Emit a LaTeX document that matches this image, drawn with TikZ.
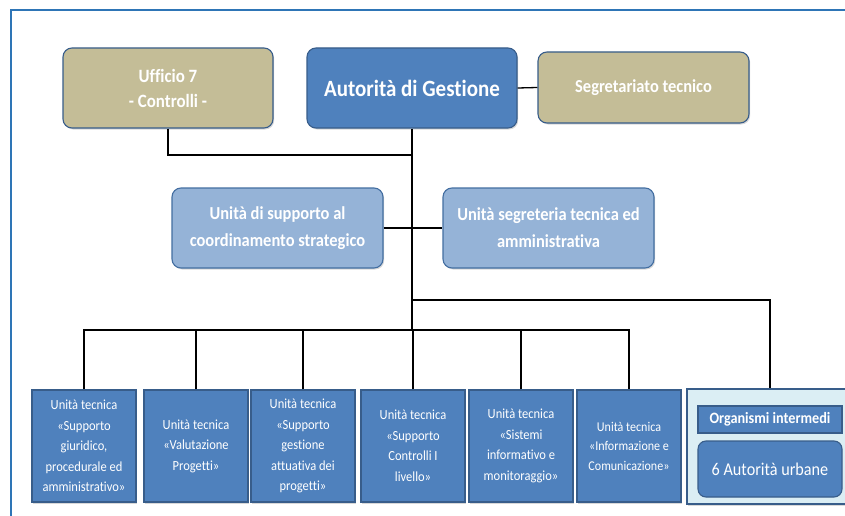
\documentclass[tikz,border=0pt]{standalone}
\usepackage{fontspec}
\setmainfont{Carlito}[FakeStretch=0.9, Ligatures=NoCommon]
\usetikzlibrary{shadows}
\definecolor{tanfill}{HTML}{C4BD97}
\definecolor{midblue}{HTML}{4F81BD}
\definecolor{lightblue}{HTML}{95B3D7}
\definecolor{edgeblue}{HTML}{385D8A}
\definecolor{paleblue}{HTML}{DBEEF4}
\definecolor{framecol}{HTML}{2E75B6}
\tikzset{
  shade1/.style={drop shadow={opacity=0.3, shadow xshift=1.2pt, shadow yshift=-1.5pt}},
  boxbase/.style={draw=edgeblue, line width=1.1pt, text=white, align=center, inner sep=0pt, shade1},
  tanbox/.style={boxbase, fill=tanfill, rounded corners=9pt},
  topbox/.style={boxbase, fill=midblue, rounded corners=9pt},
  midbox/.style={boxbase, fill=lightblue, draw=midblue!85!black, rounded corners=9pt,
    minimum width=211pt, minimum height=80pt,
    font=\fontsize{18.3}{27}\selectfont\bfseries},
  unitbox/.style={boxbase, fill=midblue, minimum width=104pt, minimum height=112pt,
    font=\fontsize{13.9}{20.5}\selectfont},
  orgbox/.style={draw=edgeblue, line width=1.1pt, fill=paleblue, minimum width=166pt, minimum height=115pt, inner sep=0pt, shade1},
  conn/.style={draw=black, line width=1.3pt}
}
\begin{document}
\begin{tikzpicture}[x=1pt, y=-1pt]
\useasboundingbox (0,0) rectangle (845,516);
\clip (0,0) rectangle (845,516);
\fill[white] (0,0) rectangle (845,516);
% frame
\draw[framecol, line width=2pt] (11,520) -- (11,10) -- (850,10);

% top row
\node[tanbox, minimum width=210pt, minimum height=80pt,
  font=\fontsize{18.8}{25}\selectfont\bfseries] (uff) at (168,88) {Ufficio 7\\- Controlli -};
\node[topbox, minimum width=210pt, minimum height=80pt,
  font=\fontsize{23.3}{25}\selectfont\bfseries] (ag) at (412,88) {Autorità di Gestione};
\node[tanbox, minimum width=211pt, minimum height=71pt,
  font=\fontsize{18.3}{25}\selectfont\bfseries] (seg) at (643.5,87.5) {Segretariato tecnico};

% middle row
\node[midbox] (sup) at (277.5,228) {Unità di supporto al\\coordinamento strategico};
\node[midbox] (segr) at (548.5,228) {Unità segreteria tecnica ed\\amministrativa};

% bottom row
\node[unitbox] (u1) at (84,446) {Unità tecnica\\«Supporto\\giuridico,\\procedurale ed\\amministrativo»};
\node[unitbox] (u2) at (196,446) {Unità tecnica\\«Valutazione\\Progetti»};
\node[unitbox] (u3) at (303,446) {Unità tecnica\\«Supporto\\gestione\\attuativa dei\\progetti»};
\node[unitbox] (u4) at (413,446) {Unità tecnica\\«Supporto\\Controlli I\\livello»};
\node[unitbox] (u5) at (521,446) {Unità tecnica\\«Sistemi\\informativo e\\monitoraggio»};
\node[unitbox, font=\fontsize{13.4}{19.5}\selectfont] (u6) at (629,446) {Unità tecnica\\«Informazione e\\Comunicazione»};

% organismi intermedi
\node[orgbox] (org) at (770,446.5) {};
\node[draw=edgeblue, line width=1.1pt, fill=midblue, text=white, inner sep=0pt,
  minimum width=144pt, minimum height=27pt,
  font=\fontsize{15.8}{17}\selectfont\bfseries] (oi) at (770,419.5) {Organismi intermedi};
\node[draw=edgeblue, line width=1.1pt, fill=midblue, text=white, inner sep=0pt,
  rounded corners=8pt, minimum width=144pt, minimum height=56pt,
  font=\fontsize{18}{20}\selectfont] (au) at (770,469) {6 Autorità urbane};

% connectors
\coordinate (j1) at (412,155);
\coordinate (j2) at (412,300);
\coordinate (j3) at (412,330);
\draw[conn] (ag.south) -- (j3);
\draw[conn] (uff.south) |- (j1);
\draw[conn] (ag.east) -- (seg.west);
\draw[conn] (sup.east) -- (segr.west);
\draw[conn] (j2) -| (org.north);
\draw[conn] (u1.north) |- (j3) -| (u6.north);
\draw[conn] (u2.north) -- (u2.north |- j3);
\draw[conn] (u3.north) -- (u3.north |- j3);
\draw[conn] (u4.north) -- (u4.north |- j3);
\draw[conn] (u5.north) -- (u5.north |- j3);
\end{tikzpicture}
\end{document}
